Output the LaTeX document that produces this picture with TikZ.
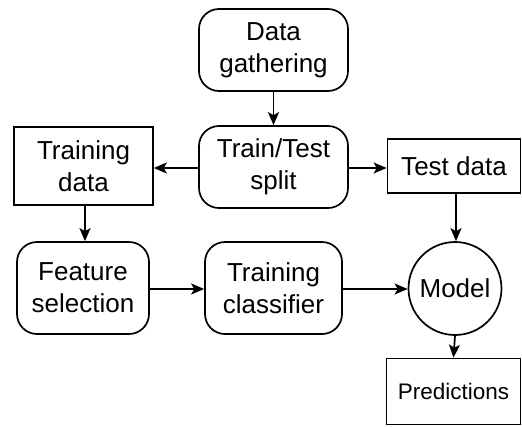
\documentclass[tikz,border=0pt]{standalone}
\usepackage{fontspec}
\setmainfont{Liberation Sans}
\usetikzlibrary{arrows.meta}
\begin{document}
\begin{tikzpicture}[x=1pt,y=-1pt,
  box/.style={draw,line width=1.7pt,align=center,inner sep=0pt,font=\fontsize{26}{32}\selectfont},
  rbox/.style={box,rounded corners=20pt},
  conn/.style={line width=1.7pt,-{Stealth[length=13pt,width=11pt,inset=3pt]}}]
\useasboundingbox (0,0) rectangle (522,426);
\node[rbox,minimum width=149pt,minimum height=82pt] (gather) at (273.5,50) {Data\\gathering};
\node[rbox,minimum width=149pt,minimum height=82pt] (split) at (273.5,167) {Train/Test\\split};
\node[box,minimum width=139pt,minimum height=78pt] (train) at (83.5,166) {Training\\data};
\node[box,minimum width=133pt,minimum height=54pt] (test) at (454,166) {Test data};
\node[rbox,minimum width=132pt,minimum height=92pt] (feat) at (83,288) {Feature\\selection};
\node[rbox,minimum width=137pt,minimum height=92pt] (clf) at (273.5,288) {Training\\classifier};
\node[box,circle,minimum size=93pt] (model) at (455,288.5) {Model};
\node[box,minimum width=134pt,minimum height=66pt,font=\fontsize{22.5}{27}\selectfont] (pred) at (453.5,391.5) {Predictions};
\draw[conn] (gather) -- (split);
\draw[conn] (split.west |- 0,168) -- (train.east |- 0,168);
\draw[conn] (split.east |- 0,168) -- (test.west |- 0,168);
\draw[conn] (train.south -| 85,0) -- (feat.north -| 85,0);
\draw[conn] (test.south -| 456,0) -- (model.north -| 456,0);
\draw[conn] (feat.east |- 0,289) -- (clf.west |- 0,289);
\draw[conn] (clf.east |- 0,289) -- (model.west |- 0,289);
\draw[conn] (model.south) -- (pred.north);
\end{tikzpicture}
\end{document}
